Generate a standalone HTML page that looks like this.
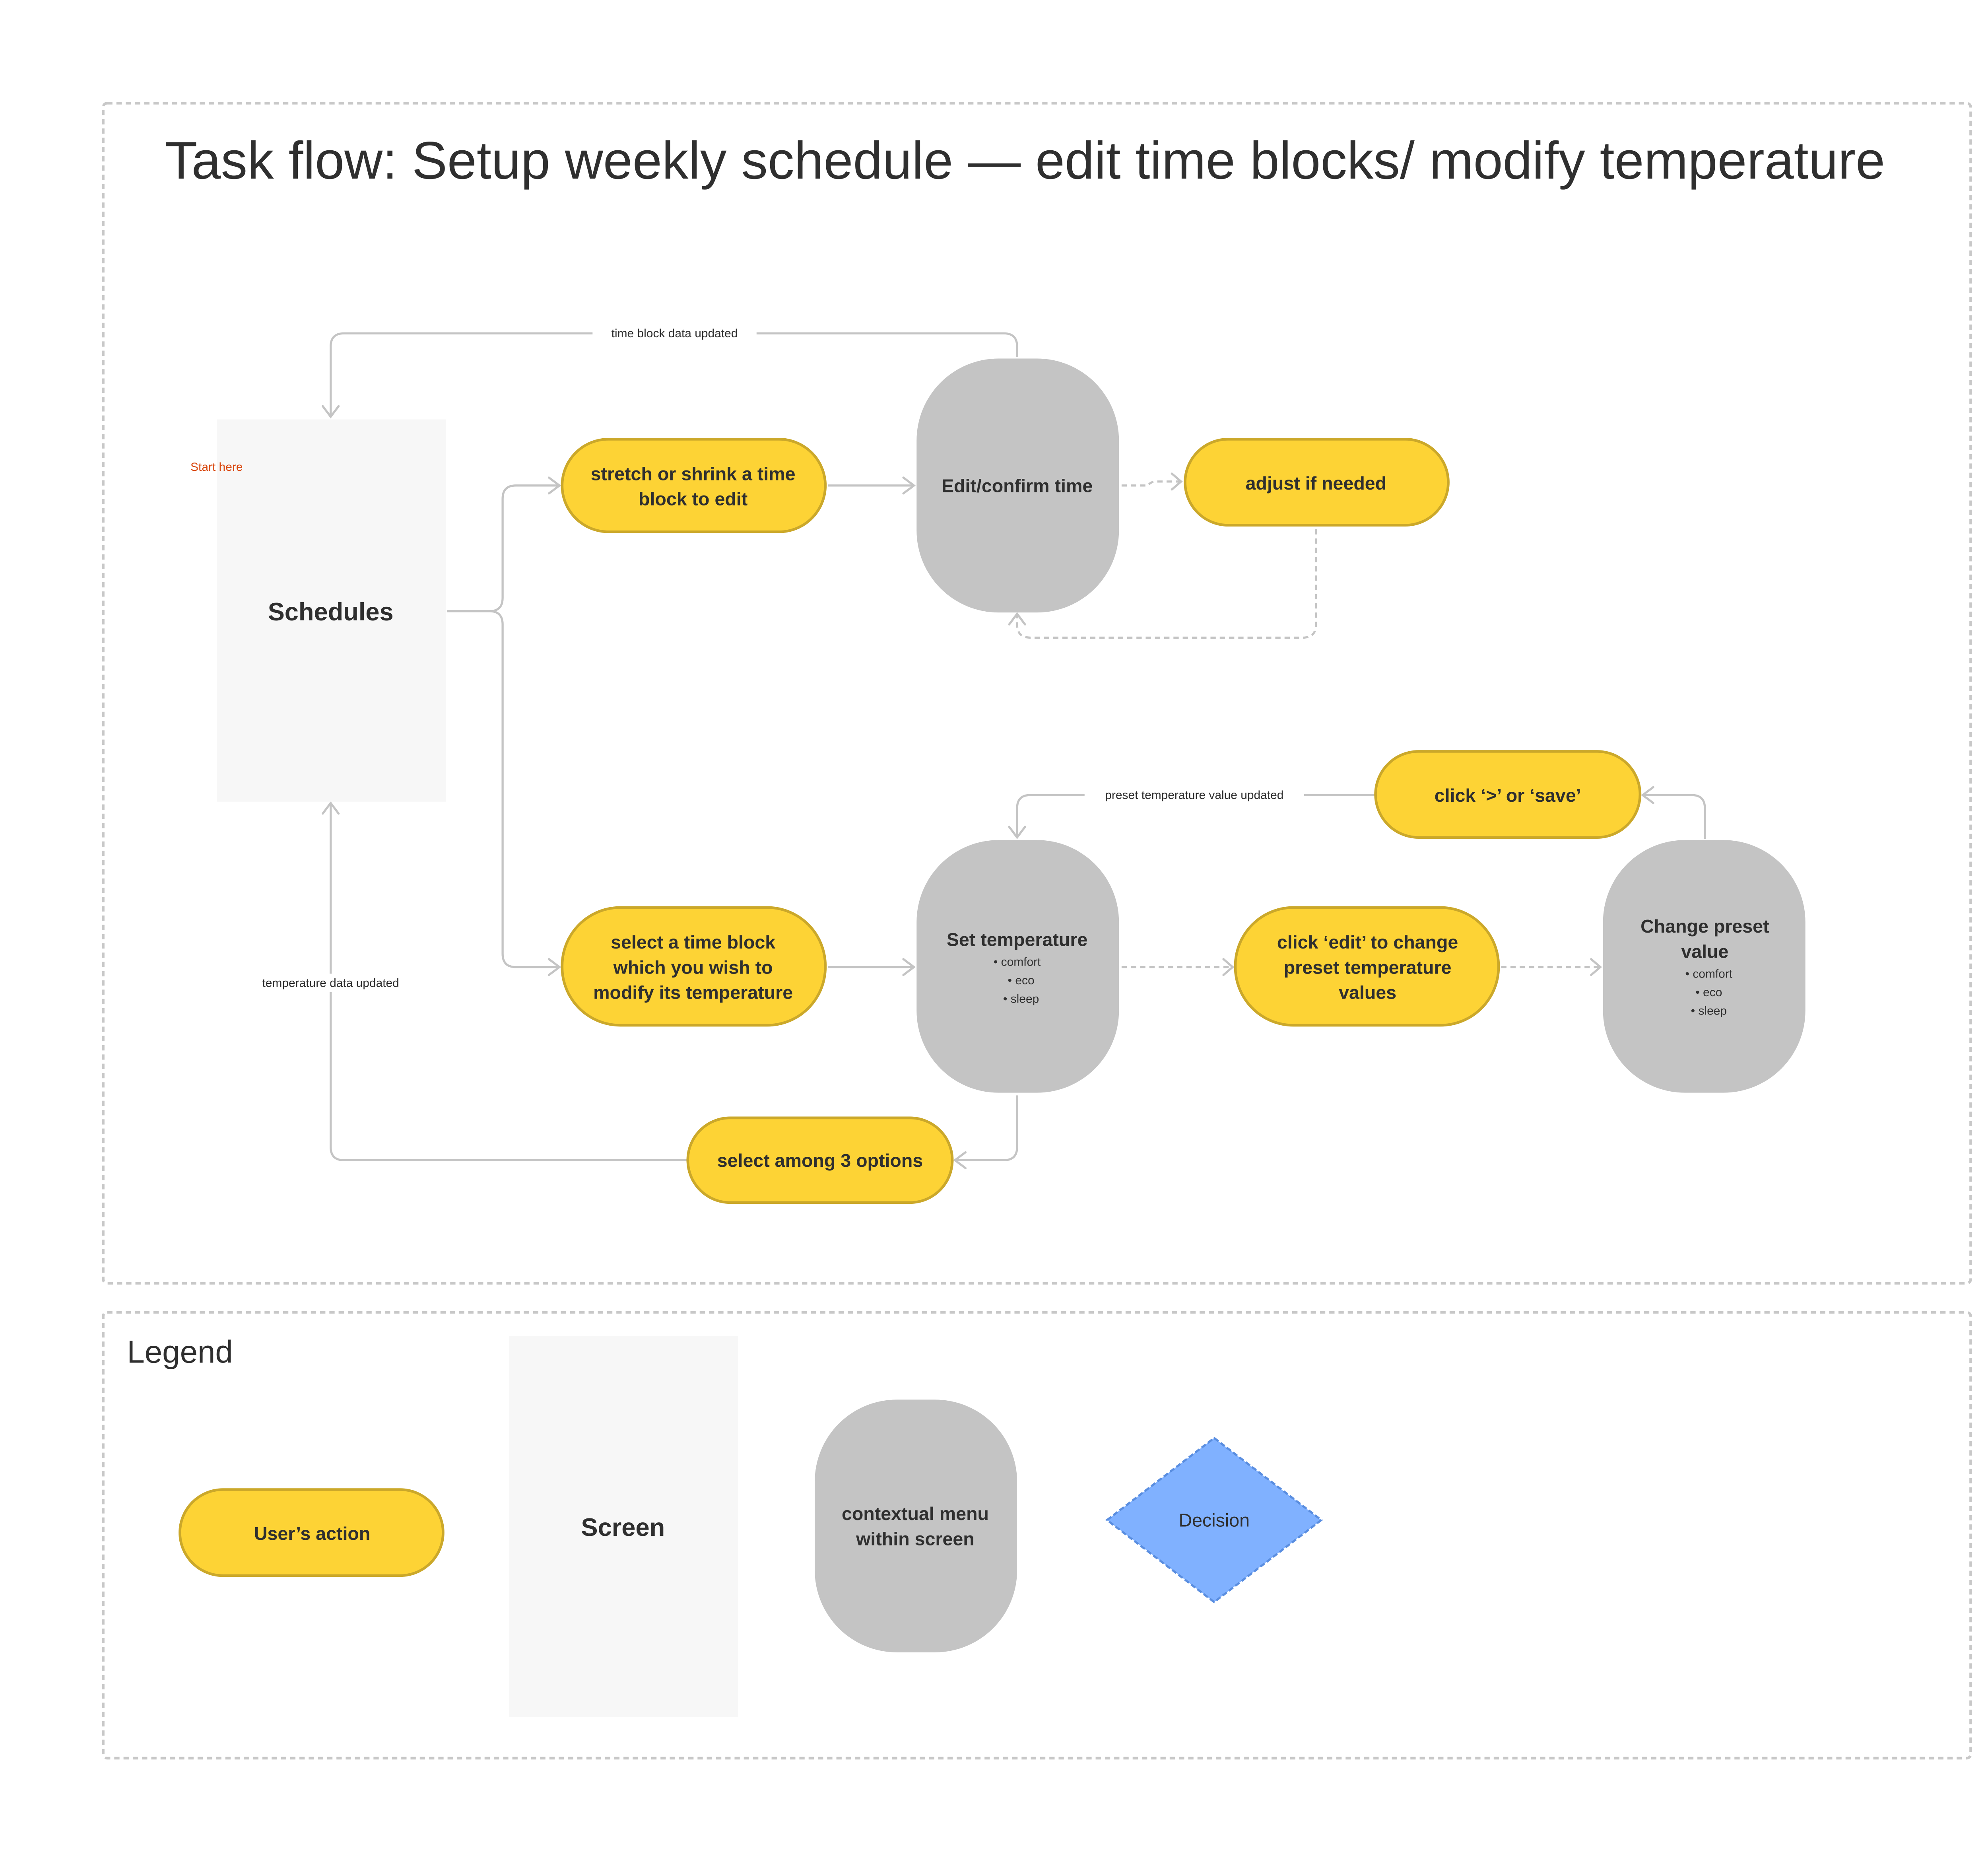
<!DOCTYPE html>
<html><head><meta charset="utf-8"><style>
html,body{margin:0;padding:0;background:#fff;}
svg{display:block;}
text{font-family:"Liberation Sans",sans-serif;fill:#2f2f2f;}
.b{font-weight:bold;}
</style></head><body>
<svg width="5216" height="4682" viewBox="0 0 1568 1407.5" xmlns="http://www.w3.org/2000/svg">
<rect width="1568" height="1408" fill="#fff"/>
<g fill="none" stroke="#c8c8c8" stroke-width="2" stroke-dasharray="4 3">
<rect x="78" y="78" width="1412" height="892" rx="3"/>
<rect x="78" y="992" width="1412" height="337" rx="3"/>
</g>
<text x="775" y="135" font-size="40" text-anchor="middle">Task flow: Setup weekly schedule — edit time blocks/ modify temperature</text>
<text x="96" y="1030" font-size="24">Legend</text>

<!-- connectors -->
<g fill="none" stroke="#c4c4c4" stroke-width="1.6">
<path d="M769 270 V262 Q769 252 759 252 H260 Q250 252 250 262 V314"/>
<path d="M338 462 H370 Q380 462 380 452 V377 Q380 367 390 367 H422"/>
<path d="M370 462 Q380 462 380 472 V721 Q380 731 390 731 H422"/>
<path d="M626 367 H690"/>
<path d="M626 731 H690"/>
<path d="M1289 634 V611 Q1289 601 1279 601 H1243"/>
<path d="M1040 601 H779 Q769 601 769 611 V632"/>
<path d="M769 828 V867 Q769 877 759 877 H723"/>
<path d="M520 877 H260 Q250 877 250 867 V608"/>
</g>
<g fill="none" stroke="#c4c4c4" stroke-width="1.6" stroke-dasharray="4 3">
<path d="M848 367 H868 Q870 364 874 364 H892"/>
<path d="M995 400 V472 Q995 482 985 482 H779 Q769 482 769 472 V465"/>
<path d="M848 731 H931"/>
<path d="M1135 731 H1209"/>
</g>
<!-- arrowheads -->
<g fill="none" stroke="#c4c4c4" stroke-width="1.6" stroke-linecap="round">
<path d="M244 307 L250 315 L256 307"/>
<path d="M415 361 L423 367 L415 373"/>
<path d="M415 725 L423 731 L415 737"/>
<path d="M683 361 L691 367 L683 373"/>
<path d="M683 725 L691 731 L683 737"/>
<path d="M886 358 L893 364 L886 370"/>
<path d="M763 472 L769 464 L775 472"/>
<path d="M925 725 L932 731 L925 737"/>
<path d="M1203 725 L1210 731 L1203 737"/>
<path d="M1250 595 L1242 601 L1250 607"/>
<path d="M763 625 L769 633 L775 625"/>
<path d="M730 871 L722 877 L730 883"/>
<path d="M244 615 L250 607 L256 615"/>
</g>
<!-- labels on lines -->
<rect x="448" y="245" width="124" height="14" fill="#fff"/>
<text x="510" y="255" font-size="9" text-anchor="middle">time block data updated</text>
<rect x="820" y="594" width="166" height="14" fill="#fff"/>
<text x="903" y="604" font-size="9" text-anchor="middle">preset temperature value updated</text>
<rect x="186" y="736" width="128" height="14" fill="#fff"/>
<text x="250" y="746" font-size="9" text-anchor="middle">temperature data updated</text>

<!-- screens -->
<rect x="164" y="317" width="173" height="289" fill="#f7f7f7"/>
<text x="250" y="469" font-size="19" text-anchor="middle" class="b">Schedules</text>
<text x="144" y="356" font-size="9" fill="#d9480f" style="fill:#d9480f">Start here</text>
<rect x="385" y="1010" width="173" height="288" fill="#f7f7f7"/>
<text x="471" y="1161" font-size="19" text-anchor="middle" class="b">Screen</text>

<!-- gray menus -->
<g fill="#c4c4c4">
<rect x="693" y="271" width="153" height="192" rx="62"/>
<rect x="693" y="635" width="153" height="191" rx="62"/>
<rect x="1212" y="635" width="153" height="191" rx="62"/>
<rect x="616" y="1058" width="153" height="191" rx="62"/>
</g>
<text x="769" y="372" font-size="14" text-anchor="middle" class="b">Edit/confirm time</text>
<text x="769" y="715" font-size="14" text-anchor="middle" class="b">Set temperature</text>
<text x="769" y="730" font-size="9" text-anchor="middle">• comfort</text>
<text x="772" y="744" font-size="9" text-anchor="middle">• eco</text>
<text x="772" y="758" font-size="9" text-anchor="middle">• sleep</text>
<text x="1289" y="705" font-size="14" text-anchor="middle" class="b">Change preset</text>
<text x="1289" y="724" font-size="14" text-anchor="middle" class="b">value</text>
<text x="1292" y="739" font-size="9" text-anchor="middle">• comfort</text>
<text x="1292" y="753" font-size="9" text-anchor="middle">• eco</text>
<text x="1292" y="767" font-size="9" text-anchor="middle">• sleep</text>
<text x="692" y="1149" font-size="14" text-anchor="middle" class="b">contextual menu</text>
<text x="692" y="1168" font-size="14" text-anchor="middle" class="b">within screen</text>

<!-- yellow pills -->
<g fill="#fdd335" stroke="#cba82a" stroke-width="2">
<rect x="425" y="332" width="199" height="70" rx="35"/>
<rect x="896" y="332" width="199" height="65" rx="32.5"/>
<rect x="1040" y="568" width="200" height="65" rx="32.5"/>
<rect x="425" y="686" width="199" height="89" rx="44"/>
<rect x="934" y="686" width="199" height="89" rx="44"/>
<rect x="520" y="845" width="200" height="64" rx="32"/>
<rect x="136" y="1126" width="199" height="65" rx="32.5"/>
</g>
<g font-size="14" text-anchor="middle" class="b">
<text x="524" y="363">stretch or shrink a time</text>
<text x="524" y="382">block to edit</text>
<text x="995" y="370">adjust if needed</text>
<text x="1140" y="606">click ‘&gt;’ or ‘save’</text>
<text x="524" y="717">select a time block</text>
<text x="524" y="736">which you wish to</text>
<text x="524" y="755">modify its temperature</text>
<text x="1034" y="717">click ‘edit’ to change</text>
<text x="1034" y="736">preset temperature</text>
<text x="1034" y="755">values</text>
<text x="620" y="882">select among 3 options</text>
<text x="236" y="1164">User’s action</text>
</g>

<!-- decision -->
<path d="M918 1087 L999 1149 L918 1211 L837 1149 Z" fill="#80b1ff" stroke="#5a8ee0" stroke-width="1.6" stroke-dasharray="4 2"/>
<text x="918" y="1154" font-size="14" text-anchor="middle">Decision</text>
</svg>
</body></html>
